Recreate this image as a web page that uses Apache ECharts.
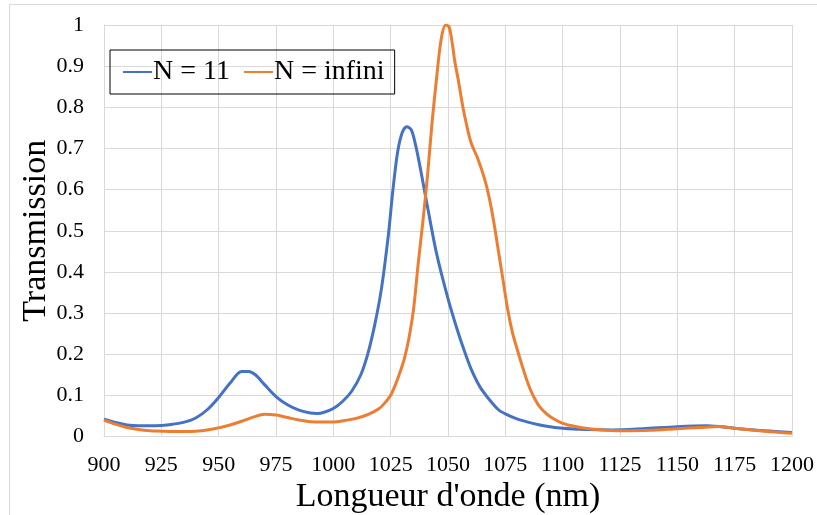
<!DOCTYPE html>
<html>
<head>
<meta charset="utf-8">
<script src="https://cdn.jsdelivr.net/npm/echarts@6/dist/echarts.min.js"></script>
<style>html,body{margin:0;padding:0;background:#fff}#c{width:817px;height:515px}</style>
</head>
<body>
<div id="c"></div>
<script>
// Wavelength (nm) and transmission, N = 11
const blueX = [900,905,910,915,920,925,930,935,940,945,950,955,960,963,966,970,975,980,985,990,993,996,1000,1004,1008,1012,1015,1018,1021,1024,1026,1028,1030,1032,1034,1036,1038,1041,1045,1050,1054,1057,1060,1064,1068,1072,1075,1080,1087,1093,1100,1110,1122,1135,1150,1163,1175,1188,1200];
const blueY = [0.042,0.034,0.028,0.026,0.026,0.027,0.030,0.035,0.045,0.065,0.095,0.130,0.158,0.158,0.150,0.126,0.097,0.077,0.064,0.057,0.056,0.059,0.068,0.085,0.110,0.150,0.200,0.270,0.360,0.490,0.600,0.690,0.738,0.753,0.745,0.705,0.650,0.560,0.445,0.335,0.260,0.210,0.165,0.120,0.090,0.065,0.055,0.043,0.032,0.025,0.020,0.017,0.016,0.019,0.024,0.026,0.020,0.014,0.010];
// N = infini
const orangeX = [900,905,910,915,920,925,930,935,940,945,950,955,960,965,970,975,980,985,990,995,1000,1005,1010,1015,1020,1023,1025,1027,1029,1031,1033,1035,1037,1039,1041,1043,1045,1047,1049,1050.5,1052,1053,1054.5,1056.5,1058,1060,1063,1066,1068,1070,1072,1074,1076,1078,1080,1082,1084,1086,1088,1090,1093,1096,1100,1105,1110,1117,1125,1138,1150,1160,1168,1175,1188,1200];
const orangeY = [0.040,0.030,0.022,0.017,0.014,0.013,0.012,0.012,0.013,0.016,0.021,0.028,0.037,0.047,0.054,0.052,0.046,0.040,0.036,0.035,0.035,0.039,0.044,0.053,0.068,0.085,0.100,0.125,0.155,0.190,0.240,0.310,0.420,0.520,0.630,0.760,0.870,0.965,1.000,0.995,0.950,0.910,0.866,0.800,0.760,0.715,0.675,0.625,0.580,0.520,0.450,0.380,0.310,0.255,0.215,0.178,0.143,0.113,0.090,0.072,0.055,0.043,0.032,0.025,0.020,0.016,0.014,0.015,0.019,0.022,0.024,0.020,0.013,0.008];
const seriesNames = ['N = 11', 'N = infini'];
const xTicks = [900,925,950,975,1000,1025,1050,1075,1100,1125,1150,1175,1200];
const yTicks = [0,0.1,0.2,0.3,0.4,0.5,0.6,0.7,0.8,0.9,1];

const zip = (xs, ys) => xs.map((x, i) => [x, ys[i]]);
const font = '"Liberation Serif","Times New Roman",serif';
const chart = echarts.init(document.getElementById('c'));
chart.setOption({
  animation: false,
  backgroundColor: '#fff',
  textStyle: { fontFamily: font },
  graphic: [{ type: 'rect', shape: { x: 9.5, y: 4.5, width: 900, height: 700 }, style: { fill: 'none', stroke: '#D9D9D9', lineWidth: 1 }, silent: true, z: -1 }],
  grid: { left: 104, right: 25, top: 25, bottom: 78.5, containLabel: false, outerBoundsMode: 'none' },
  legend: {
    left: 110, top: 50,
    padding: [8, 10, 8, 12],
    itemWidth: 29, itemHeight: 3, itemGap: 13,
    borderColor: '#000', borderWidth: 1,
    textStyle: { fontFamily: font, fontSize: 28, color: '#000', padding: [0, 0, 0, -4] },
    data: seriesNames
  },
  xAxis: {
    type: 'value', min: xTicks[0], max: xTicks[xTicks.length - 1], interval: 25,
    name: "Longueur d'onde (nm)", nameLocation: 'middle', nameGap: 44, nameMoveOverlap: false,
    nameTextStyle: { fontFamily: font, fontSize: 34, color: '#000' },
    axisLine: { show: true, lineStyle: { color: '#D9D9D9' } },
    axisTick: { show: false },
    axisLabel: { fontFamily: font, fontSize: 22, color: '#000', margin: 18, formatter: v => String(v) },
    splitLine: { show: true, lineStyle: { color: '#D9D9D9', width: 1 } }
  },
  yAxis: {
    type: 'value', min: yTicks[0], max: yTicks[yTicks.length - 1], interval: 0.1,
    name: 'Transmission', nameLocation: 'middle', nameGap: 51, nameMoveOverlap: false,
    nameTextStyle: { fontFamily: font, fontSize: 34, color: '#000' },
    axisLine: { show: true, lineStyle: { color: '#D9D9D9' } },
    axisTick: { show: false },
    axisLabel: { fontFamily: font, fontSize: 22, color: '#000', margin: 20,
      formatter: v => String(Math.round(v * 10) / 10) },
    splitLine: { show: true, lineStyle: { color: '#D9D9D9', width: 1 } }
  },
  series: [
    { name: seriesNames[0], type: 'line', data: zip(blueX, blueY), symbol: 'none', smooth: 0.3,
      lineStyle: { color: '#4472C4', width: 3 }, itemStyle: { color: '#4472C4' } },
    { name: seriesNames[1], type: 'line', data: zip(orangeX, orangeY), symbol: 'none', smooth: 0.3,
      lineStyle: { color: '#ED7D31', width: 3 }, itemStyle: { color: '#ED7D31' } }
  ]
});
</script>
</body>
</html>
